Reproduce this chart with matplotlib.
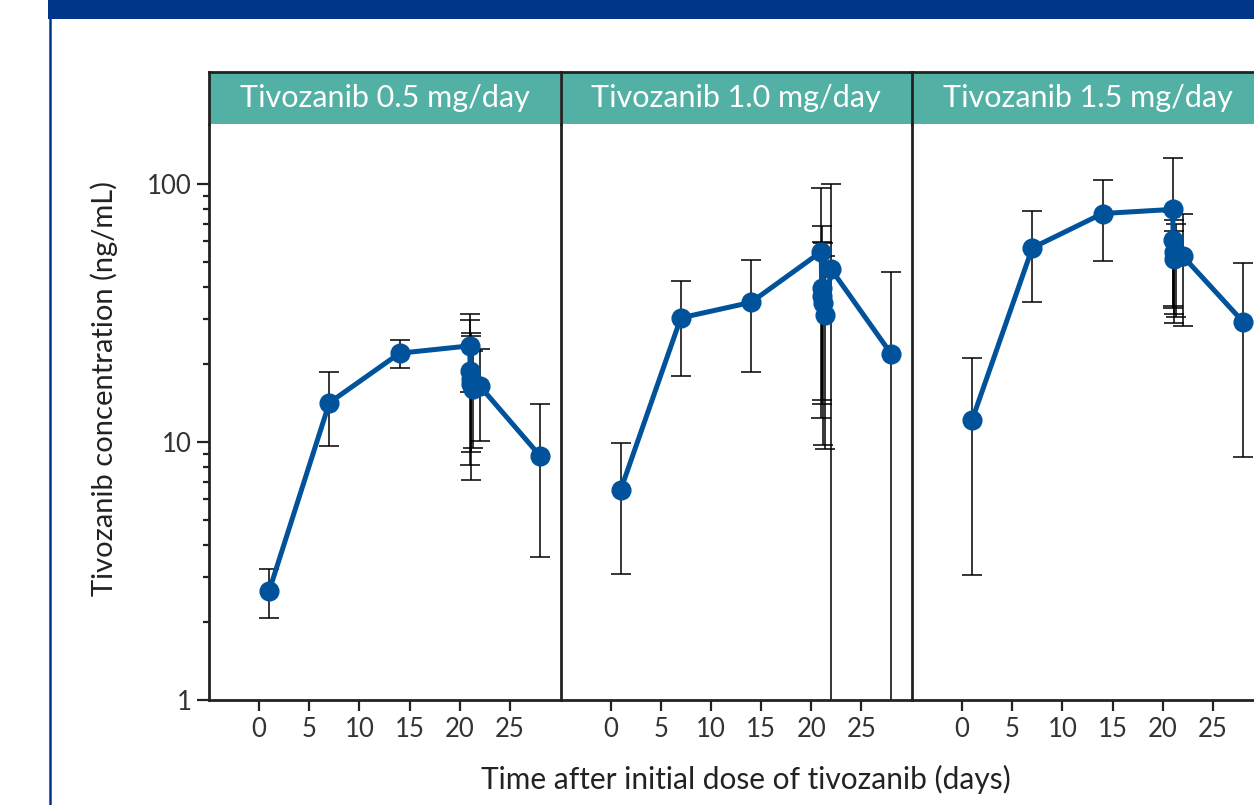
import numpy as np
import matplotlib.pyplot as plt
from matplotlib.patches import Rectangle
from matplotlib.lines import Line2D
from matplotlib.ticker import LogLocator, NullFormatter, FixedLocator, FixedFormatter

plt.rcParams['font.family'] = ['Lato', 'DejaVu Sans']

# sampling times (days): pre-dose, then day-21 profile, day 22, day 28
times = [1, 7, 14, 21, 21.04, 21.08, 21.17, 21.33, 22, 28]

panel_titles = ['Tivozanib 0.5 mg/day', 'Tivozanib 1.0 mg/day', 'Tivozanib 1.5 mg/day']

# mean concentration (ng/mL)
mean_05 = [2.65, 14.2, 22.1, 23.6, 18.9, 17.5, 16.8, 16.0, 16.5, 8.85]
mean_10 = [6.52, 30.3, 34.8, 54.7, 39.6, 36.9, 34.5, 31.1, 46.7, 21.9]
mean_15 = [12.2, 56.6, 76.9, 79.8, 60.7, 54.7, 51.1, 52.0, 52.6, 29.3]

# lower / upper ends of the error bars (ng/mL)
low_05 = [2.08, 9.68, 19.3, 15.7, 8.15, 9.17, 7.12, 9.5, 10.1, 3.58]
up_05 = [3.22, 18.7, 24.9, 31.5, 29.7, 25.8, 26.5, 22.5, 22.9, 14.0]
low_10 = [3.08, 18.1, 18.7, 12.4, 14.5, 14.0, 9.7, 9.37, 0.5, 0.5]
up_10 = [9.94, 42.1, 50.9, 96.3, 68.8, 59.8, 59.3, 52.8, 100.0, 45.6]
low_15 = [3.05, 34.8, 50.3, 33.8, 33.2, 31.5, 29.0, 30.5, 28.2, 8.77]
up_15 = [21.2, 78.8, 103.4, 125.8, 78.0, 72.5, 66.0, 70.0, 76.9, 49.3]

means = [mean_05, mean_10, mean_15]
lows = [low_05, low_10, low_15]
ups = [up_05, up_10, up_15]

blue = '#00529B'
teal = '#52B0A4'
navy = '#003689'
dark = '#222222'

W, H = 1254, 805
fig = plt.figure(figsize=(W / 100, H / 100), dpi=100)

# page decoration: title band and frame line
fig.add_artist(Rectangle((48 / W, 1 - 19 / H), 1, 19 / H, transform=fig.transFigure,
                         color=navy, lw=0))
fig.add_artist(Line2D([49.5 / W, 49.5 / W], [0, 1 - 19 / H], transform=fig.transFigure,
                      color=navy, lw=1.8))

pw = 351.5
for i in range(3):
    x0 = 209 + i * pw
    ax = fig.add_axes([x0 / W, (H - 700) / H, pw / W, 576 / H])
    m = np.array(means[i])
    lo = m - np.array(lows[i])
    hi = np.array(ups[i]) - m
    ax.errorbar(times, m, yerr=[lo, hi], fmt='none', ecolor='black',
                elinewidth=1.1, capsize=7, capthick=1.1, zorder=2)
    ax.plot(times, m, '-o', color=blue, lw=3.6, markersize=13.5, zorder=3)

    ax.set_yscale('log')
    ax.set_ylim(1, 171)
    ax.set_xlim(-5, 30.05)
    ax.set_xticks([0, 5, 10, 15, 20, 25])
    for s in ['top', 'right']:
        ax.spines[s].set_visible(False)
    for s in ['left', 'bottom']:
        ax.spines[s].set_linewidth(2)
        ax.spines[s].set_color(dark)
    ax.tick_params(axis='x', length=8, width=1.6, color=dark, labelsize=18.5,
                   labelcolor='#333333', pad=4)
    if i == 0:
        ax.yaxis.set_major_locator(FixedLocator([1, 10, 100]))
        ax.yaxis.set_major_formatter(FixedFormatter(['1', '10', '100']))
        ax.yaxis.set_minor_locator(LogLocator(base=10, subs=np.arange(2, 10)))
        ax.yaxis.set_minor_formatter(NullFormatter())
        ax.tick_params(axis='y', which='major', length=8.5, width=1.6, color=dark,
                       labelsize=18.5, labelcolor='#333333', pad=4)
        ax.tick_params(axis='y', which='minor', length=4.5, width=1.6, color=dark)
    else:
        ax.tick_params(axis='y', which='both', left=False, labelleft=False)

    sx = fig.add_axes([x0 / W, (H - 124) / H, pw / W, 52 / H])
    sx.set_facecolor(teal)
    sx.set_xticks([])
    sx.set_yticks([])
    sx.spines['bottom'].set_visible(False)
    sx.spines['right'].set_visible(False)
    for s in ['top', 'left']:
        sx.spines[s].set_linewidth(2)
        sx.spines[s].set_color(dark)
    sx.text(0.5, 0.5, panel_titles[i], color='white', fontsize=22,
            ha='center', va='center', transform=sx.transAxes)

fig.text(746 / W, 1 - 779 / H, 'Time after initial dose of tivozanib (days)',
         ha='center', va='center', fontsize=21.5, color=dark)
fig.text(104 / W, 1 - 389 / H, 'Tivozanib concentration (ng/mL)',
         ha='center', va='center', rotation=90, fontsize=21, color=dark)

fig.savefig('out.png', dpi=100)
